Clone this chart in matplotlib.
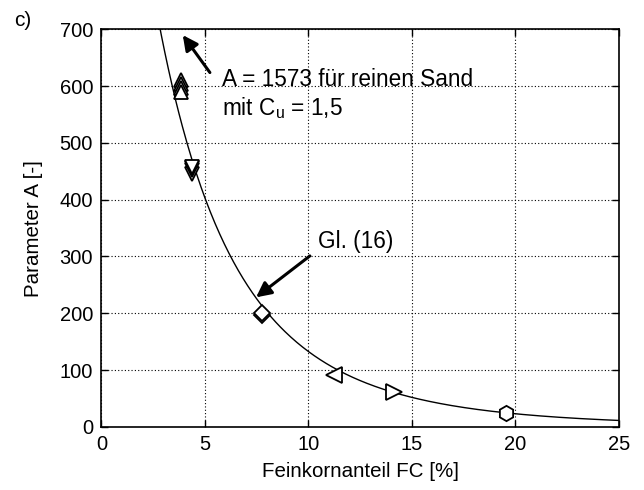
import numpy as np
import matplotlib
matplotlib.use("Agg")
import matplotlib.pyplot as plt

plt.rcParams['font.family'] = ['Liberation Sans', 'DejaVu Sans']
plt.rcParams['mathtext.fontset'] = 'custom'
plt.rcParams['mathtext.rm'] = 'Liberation Sans'

# Data
fc_up = [3.83, 3.83, 3.83, 3.83]
A_up = [611, 604, 597, 590]
fc_down = [4.36, 4.36, 4.36, 4.36]
A_down = [445, 452, 455, 457]
fc_diamond = [7.74, 7.74]
A_diamond = [197, 201]
fc_left = [11.25]
A_left = [92]
fc_right = [14.14]
A_right = [62]
fc_hex = [19.54]
A_hex = [25]

# Fit curve Gl. (16): A = A_sand / (1 + c*FC)^d
A_sand = 1573
c_fit = 0.05
d_fit = 6.1

xticks = [0, 5, 10, 15, 20, 25]
yticks = [0, 100, 200, 300, 400, 500, 600, 700]

fig = plt.figure(figsize=(6.44, 4.90), dpi=100)
ax = fig.add_axes([0.1575, 0.129, 0.8035, 0.811])

fc_curve = np.linspace(2.5, 25, 400)
A_curve = A_sand / (1 + c_fit * fc_curve) ** d_fit
ax.plot(fc_curve, A_curve, color='black', lw=1.0, zorder=3)

mk = dict(linestyle='none', markerfacecolor='white', markeredgecolor='black',
          markeredgewidth=1.3, zorder=4)
for x, y in zip(fc_up, A_up):
    ax.plot([x], [y], marker='^', markersize=10.5, **mk)
for x, y in zip(fc_down, A_down):
    ax.plot([x], [y], marker='v', markersize=10.5, **mk)
for x, y in zip(fc_diamond, A_diamond):
    ax.plot([x], [y], marker='D', markersize=8.5, **mk)
ax.plot(fc_left, A_left, marker='<', markersize=11, **mk)
ax.plot(fc_right, A_right, marker='>', markersize=11, **mk)
ax.plot(fc_hex, A_hex, marker='h', markersize=11, **mk)

ax.set_xlim(0, 25)
ax.set_ylim(0, 700)
ax.set_xticks(xticks)
ax.set_yticks(yticks)
ax.tick_params(direction='in', top=True, right=True, labelsize=14.5, length=5, width=1, pad=6)
ax.grid(True, linestyle=(0, (1, 2)), color='black', lw=0.8)
for s in ax.spines.values():
    s.set_linewidth(1.2)

ax.set_xlabel('Feinkornanteil FC [%]', fontsize=14.8, labelpad=6)
ax.set_ylabel('Parameter A [-]', fontsize=14.8, labelpad=12)

arrow_kw = dict(arrowstyle='-|>,head_length=0.9,head_width=0.45', color='black', lw=2.2,
                shrinkA=0, shrinkB=0)
ax.annotate('', xy=(3.93, 690), xytext=(5.24, 624), arrowprops=arrow_kw, zorder=5)
ax.annotate('', xy=(7.47, 228), xytext=(10.07, 301), arrowprops=arrow_kw, zorder=5)

ax.text(5.81, 612, 'A = 1573 für reinen Sand', fontsize=16.3, va='center', ha='left')
ax.text(5.81, 561, r'mit C$_\mathregular{u}$ = 1,5', fontsize=16.3, va='center', ha='left')
ax.text(10.46, 326, 'Gl. (16)', fontsize=16.3, va='center', ha='left')

fig.text(23 / 644, 1 - 20 / 490, 'c)', fontsize=15, ha='center', va='center')

fig.savefig('out.png', dpi=100)
